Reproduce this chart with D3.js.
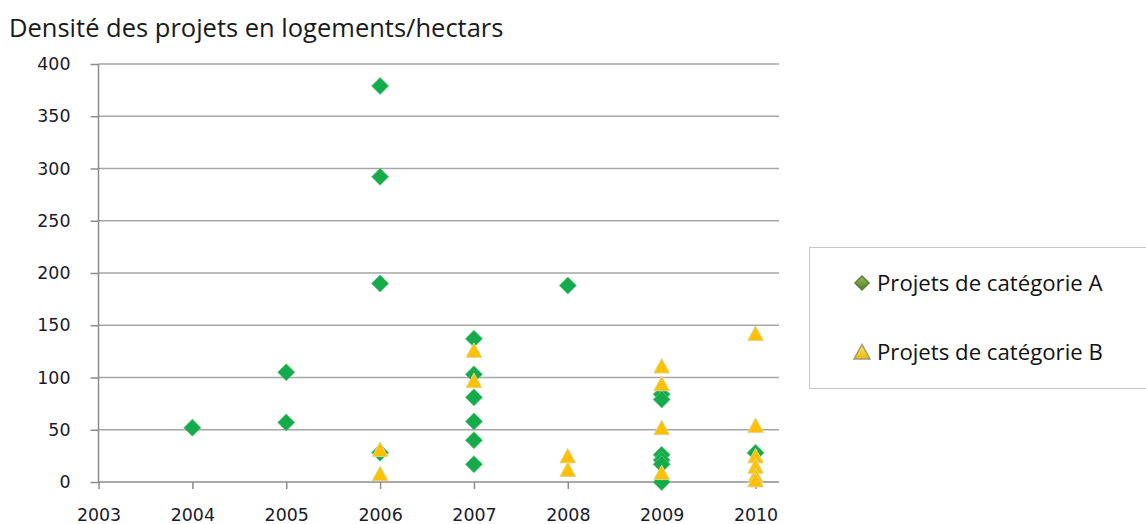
<!DOCTYPE html>
<html>
<head>
<meta charset="utf-8">
<script src="https://cdn.jsdelivr.net/npm/d3@7/dist/d3.min.js"></script>
<style>
  html, body { margin: 0; padding: 0; background: #fff; }
  svg { display: block; }
</style>
</head>
<body>
<svg id="chart" width="1146" height="524"></svg>
<script>
// Densité (logements / hectare) by year of project
const yearTicks = [2003, 2004, 2005, 2006, 2007, 2008, 2009, 2010];
const densityTicks = [0, 50, 100, 150, 200, 250, 300, 350, 400];

const categoryAYears  = [2004, 2005, 2005, 2006, 2006, 2006, 2006, 2007, 2007, 2007, 2007, 2007, 2007, 2008, 2009, 2009, 2009, 2009, 2009, 2009, 2010];
const categoryAValues = [52,   105,  57,   379,  292,  190,  28,   137,  103,  81,   58,   40,   17,   188,  84,   79,   26,   21,   17,   0,    28];

const categoryBYears  = [2006, 2006, 2007, 2007, 2008, 2008, 2009, 2009, 2009, 2009, 2010, 2010, 2010, 2010, 2010, 2010];
const categoryBValues = [31,   8,    126,  97,   25,   12,   111,  94,   52,   9,    142,  54,   25,   15,   6,    2];

const seriesNames = ["Projets de catégorie A", "Projets de catégorie B"];
const chartTitle = "Densité des projets en logements/hectars";

const svg = d3.select("#chart");

const plot = { left: 98.5, right: 779, top: 64, bottom: 482 };

const x = d3.scaleLinear().domain([2003, 2010.25]).range([plot.left, plot.right]);
const y = d3.scaleLinear().domain([0, 400]).range([plot.bottom, plot.top]);

// title
svg.append("text")
  .attr("x", 9).attr("y", 37)
  .attr("font-family", "'Open Sans', sans-serif")
  .attr("font-size", 25.5)
  .attr("fill", "#1a1a1a")
  .text(chartTitle);

// horizontal gridlines
svg.append("g")
  .selectAll("line")
  .data(densityTicks.filter(d => d > 0))
  .join("line")
  .attr("x1", plot.left).attr("x2", plot.right)
  .attr("y1", d => y(d)).attr("y2", d => y(d))
  .attr("stroke", "#a6a6a6").attr("stroke-width", 1.3);

// y axis
const yAxis = svg.append("g")
  .attr("transform", `translate(${plot.left},0)`)
  .call(d3.axisLeft(y).tickValues(densityTicks).tickSize(8).tickPadding(20));
// x axis
const xAxis = svg.append("g")
  .attr("transform", `translate(0,${plot.bottom})`)
  .call(d3.axisBottom(x).tickValues(yearTicks).tickFormat(d3.format("d")).tickSize(7).tickPadding(20));

[yAxis, xAxis].forEach(g => {
  g.select(".domain").attr("stroke", "#8c8c8c").attr("stroke-width", 1.5);
  g.selectAll(".tick line").attr("stroke", "#8c8c8c").attr("stroke-width", 1.5);
  g.selectAll(".tick text")
    .attr("font-family", "'DejaVu Sans', sans-serif")
    .attr("font-size", 17.4)
    .attr("fill", "#1a1a2a");
});
xAxis.select(".domain").attr("d", `M${plot.left},0H${plot.right}`);
yAxis.select(".domain").attr("d", `M0,${plot.bottom}V${plot.top}`);

// marker shapes
const diamondPath = "M0,-8.5L8.5,0L0,8.5L-8.5,0Z";
const trianglePath = "M0,-7.5L7.8,7L-7.8,7Z";

const pointsA = categoryAYears.map((yr, i) => ({ year: yr, value: categoryAValues[i] }));
const pointsB = categoryBYears.map((yr, i) => ({ year: yr, value: categoryBValues[i] }));

svg.append("g")
  .selectAll("path")
  .data(pointsA)
  .join("path")
  .attr("d", diamondPath)
  .attr("transform", d => `translate(${x(d.year)},${y(d.value)})`)
  .attr("fill", "#14ab4b")
  .attr("stroke", "#5cc27a").attr("stroke-width", 0.8);

svg.append("g")
  .selectAll("path")
  .data(pointsB)
  .join("path")
  .attr("d", trianglePath)
  .attr("transform", d => `translate(${x(d.year)},${y(d.value)})`)
  .attr("fill", "#ffc000")
  .attr("stroke", "#e3d48a").attr("stroke-width", 1);

// legend
const defs = svg.append("defs");
const gA = defs.append("linearGradient").attr("id", "legA").attr("x1", 0).attr("y1", 0).attr("x2", 0).attr("y2", 1);
gA.append("stop").attr("offset", "0%").attr("stop-color", "#9cbf62");
gA.append("stop").attr("offset", "100%").attr("stop-color", "#4d7a26");
const gB = defs.append("linearGradient").attr("id", "legB").attr("x1", 0).attr("y1", 0).attr("x2", 0).attr("y2", 1);
gB.append("stop").attr("offset", "0%").attr("stop-color", "#ffe070");
gB.append("stop").attr("offset", "100%").attr("stop-color", "#f2b800");

const legend = svg.append("g");
legend.append("rect")
  .attr("x", 809.5).attr("y", 247.5)
  .attr("width", 360).attr("height", 141)
  .attr("fill", "#fff").attr("stroke", "#c8c8c8").attr("stroke-width", 1);

const legendRows = [
  { name: seriesNames[0], yPos: 283, path: "M0,-7L7,0L0,7L-7,0Z", fill: "url(#legA)", stroke: "#5b7f35" },
  { name: seriesNames[1], yPos: 352, path: "M0,-7.5L8,7L-8,7Z", fill: "url(#legB)", stroke: "#9c9c7c" }
];
const rows = legend.selectAll("g.row").data(legendRows).join("g")
  .attr("transform", d => `translate(0,${d.yPos})`);
rows.append("path")
  .attr("d", d => d.path)
  .attr("transform", "translate(862,0)")
  .attr("fill", d => d.fill)
  .attr("stroke", d => d.stroke).attr("stroke-width", 1.5);
rows.append("text")
  .attr("x", 877).attr("y", 8)
  .attr("font-family", "'Open Sans', sans-serif")
  .attr("font-size", 22.2)
  .attr("fill", "#111")
  .text(d => d.name);
</script>
</body>
</html>
